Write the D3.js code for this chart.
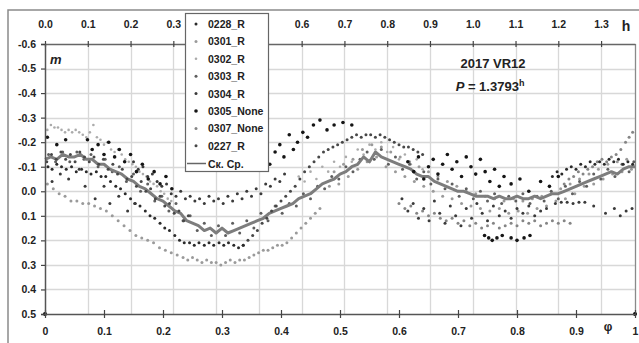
<!DOCTYPE html>
<html><head><meta charset="utf-8">
<script src="https://cdn.jsdelivr.net/npm/d3@7"></script>
<style>
body{margin:0;background:#fff}
svg{display:block}
text{font-family:"Liberation Sans",Arial,sans-serif}
</style>
</head><body>
<svg id="c" width="639" height="343"></svg>
<script>
// ---------------- DATA ----------------
const phaseTicks = [0,0.1,0.2,0.3,0.4,0.5,0.6,0.7,0.8,0.9,1];
const phaseLabels = ["0","0.1","0.2","0.3","0.4","0.5","0.6","0.7","0.8","0.9","1"];
const hourTicks = [0,0.1,0.2,0.3,0.4,0.5,0.6,0.7,0.8,0.9,1.0,1.1,1.2,1.3];
const hourLabels = ["0.0","0.1","0.2","0.3","0.4","0.5","0.6","0.7","0.8","0.9","1.0","1.1","1.2","1.3"];
const magTicks = [-0.6,-0.5,-0.4,-0.3,-0.2,-0.1,0,0.1,0.2,0.3,0.4,0.5];
const magLabels = ["-0.6","-0.5","-0.4","-0.3","-0.2","-0.1","0.0","0.1","0.2","0.3","0.4","0.5"];
const period = 1.3793;
const objectName = "2017 VR12";
const seriesNames = ["0228_R","0301_R","0302_R","0303_R","0304_R","0305_None","0307_None","0227_R"];
const meanName = "Ск. Ср.";

const s0228_R = [[0.005,-0.10],[0.012,-0.09],[0.02,-0.11],[0.028,-0.10],[0.036,-0.09],[0.045,-0.10],[0.053,-0.08],[0.062,-0.09],[0.07,-0.08],[0.078,-0.07],[0.087,-0.08],[0.095,-0.06],[0.103,-0.06],[0.111,-0.04],[0.12,-0.02],[0.128,-0.01],[0.136,0.01],[0.145,0.03],[0.153,0.05],[0.161,0.06],[0.17,0.08],[0.178,0.10],[0.186,0.11],[0.195,0.13],[0.203,0.15],[0.211,0.16],[0.22,0.18],[0.228,0.20],[0.236,0.21],[0.245,0.21],[0.253,0.22],[0.261,0.21],[0.27,0.22],[0.278,0.21],[0.286,0.22],[0.295,0.21],[0.303,0.22],[0.311,0.21],[0.32,0.22],[0.328,0.23],[0.336,0.22],
 [0.86,-0.06],[0.868,-0.08],[0.876,-0.07],[0.884,-0.09],[0.892,-0.10],[0.9,-0.09],[0.908,-0.11],[0.916,-0.10],[0.924,-0.12],[0.932,-0.11],[0.94,-0.12],[0.948,-0.11],[0.956,-0.13],[0.964,-0.12],[0.972,-0.13],[0.98,-0.11],[0.988,-0.12],[0.996,-0.11]];
const s0301_R = [[0.004,-0.03],[0.014,-0.01],[0.024,0.01],[0.034,0.02],[0.044,0.04],[0.054,0.04],[0.064,0.05],[0.074,0.05],[0.084,0.06],[0.094,0.07],[0.104,0.08],[0.114,0.10],[0.124,0.12],[0.134,0.14],[0.144,0.16],[0.154,0.18],[0.164,0.19],[0.174,0.20],[0.184,0.21],[0.194,0.23],[0.204,0.24],[0.214,0.25],[0.224,0.26],[0.234,0.27],[0.242,0.28],[0.25,0.27],[0.258,0.28],[0.266,0.29],[0.274,0.28],[0.282,0.29],[0.29,0.29],[0.298,0.30],[0.306,0.29],[0.314,0.28],[0.322,0.29],[0.33,0.28],[0.338,0.28],[0.346,0.27],[0.354,0.26],[0.362,0.25],[0.37,0.24],[0.378,0.24],[0.386,0.23],[0.394,0.22],[0.402,0.22],[0.41,0.21],[0.418,0.19],[0.426,0.17],[0.434,0.15],[0.442,0.13],[0.45,0.11],[0.458,0.09],[0.466,0.07],
 [0.482,-0.02],[0.49,-0.08],[0.498,-0.03],[0.506,-0.11],[0.514,-0.06],[0.522,-0.13],[0.53,-0.09],[0.538,-0.17],[0.546,-0.12],[0.554,-0.19],[0.562,-0.14],[0.57,-0.18],[0.578,-0.10],[0.586,-0.16],[0.594,-0.08],[0.602,-0.14],[0.61,-0.06],[0.618,-0.12],[0.626,-0.04],[0.634,-0.10],[0.642,-0.02],[0.65,-0.08],[0.658,0.00],[0.666,-0.06],[0.674,0.02],[0.682,-0.04],[0.69,0.03],[0.698,-0.02],[0.706,0.05],[0.714,0.00],[0.722,0.06],[0.73,0.01],[0.738,0.07],[0.746,0.02],[0.754,0.08],[0.762,0.03],[0.77,0.07],[0.778,0.04],[0.786,0.09],[0.794,0.03],[0.802,0.08],[0.81,0.04],[0.818,0.09],[0.826,0.03],[0.834,0.07],[0.842,0.02],[0.85,0.06],[0.858,0.01],[0.866,0.04],[0.874,-0.01],[0.882,0.03],[0.89,-0.03],[0.898,0.01],[0.906,-0.05],[0.914,-0.02],[0.922,-0.07],[0.93,-0.03],[0.938,-0.09],[0.946,-0.05],[0.954,-0.11],[0.962,-0.07],[0.97,-0.12],[0.978,-0.08],[0.986,-0.13],[0.994,-0.09]];
const s0302_R = [[0.004,-0.25],[0.01,-0.27],[0.016,-0.26],[0.022,-0.26],[0.028,-0.25],[0.034,-0.24],[0.04,-0.25],[0.046,-0.24],[0.052,-0.25],[0.058,-0.24],[0.064,-0.23],[0.07,-0.22],[0.076,-0.24],[0.082,-0.27],[0.088,-0.22],[0.094,-0.21],[0.10,-0.19],[0.106,-0.20],[0.112,-0.17],[0.118,-0.16],[0.124,-0.17],[0.13,-0.15],[0.136,-0.13],[0.142,-0.12],[0.148,-0.11],[0.154,-0.10],[0.16,-0.08],[0.166,-0.07],[0.172,-0.06],[0.178,-0.04],[0.184,-0.03],[0.19,-0.02],[0.196,0.00],[0.202,0.01],[0.208,0.03],[0.214,0.04],
 [0.43,-0.06],[0.44,-0.04],[0.45,-0.08],[0.46,-0.05],[0.47,-0.10],[0.48,-0.08],[0.49,-0.12],[0.50,-0.10],[0.51,-0.14],[0.52,-0.12],[0.53,-0.17],[0.54,-0.15],[0.55,-0.19],[0.56,-0.17],[0.57,-0.20],[0.58,-0.16],[0.59,-0.18],[0.60,-0.13],[0.61,-0.15],[0.62,-0.11],[0.63,-0.13],[0.64,-0.09]];
const s0303_R = [[0.006,-0.15],[0.018,-0.12],[0.03,-0.16],[0.042,-0.12],[0.054,-0.16],[0.066,-0.13],[0.078,-0.15],[0.09,-0.10],[0.102,-0.13],[0.114,-0.08],[0.126,-0.10],[0.138,-0.04],[0.15,-0.07],[0.162,0.00],[0.174,-0.03],[0.186,0.04],[0.198,0.02],[0.21,0.08],[0.222,0.05],[0.234,0.12],[0.246,0.10],[0.258,0.16],[0.27,0.13],[0.282,0.18],[0.294,0.14],[0.306,0.18],[0.318,0.13],[0.33,0.17],[0.342,0.12],[0.354,0.15],[0.366,0.09],[0.378,0.12],[0.39,0.06],
 [0.402,0.09],[0.414,0.05],[0.426,0.06],[0.438,0.01],[0.45,0.03],[0.462,-0.02],[0.474,-0.01],[0.486,-0.06],[0.498,-0.05],[0.51,-0.10],[0.522,-0.08],[0.534,-0.13],[0.546,-0.16],[0.558,-0.13],[0.57,-0.17],[0.582,-0.11],[0.594,-0.14],[0.606,-0.09],[0.618,-0.11],[0.63,-0.05],[0.642,-0.08],[0.654,-0.03],[0.666,-0.05],[0.678,-0.01],[0.69,-0.03],[0.702,0.02],[0.714,-0.01],[0.726,0.03],[0.738,0.00],[0.75,0.04],[0.762,0.01],[0.774,0.05],[0.786,0.02],[0.798,0.04],[0.81,0.01],[0.822,0.05],[0.834,0.02],[0.846,0.04],[0.858,0.00],[0.87,0.03],[0.882,-0.02],[0.894,0.01],[0.906,-0.04],[0.918,-0.02],[0.93,-0.07],[0.942,-0.05],[0.954,-0.09],[0.966,-0.06],[0.978,-0.11],[0.99,-0.08],[0.998,-0.12]];
const s0304_R = [[0.012,-0.04],[0.026,-0.07],[0.04,-0.05],[0.058,-0.09],[0.068,-0.02],[0.085,0.03],[0.1,-0.02],[0.11,0.05],[0.125,0.02],[0.14,0.08],[0.152,0.05],
 [0.15,-0.12],[0.158,-0.09],[0.166,-0.10],[0.174,-0.06],[0.182,-0.07],[0.19,-0.04],[0.198,-0.02],[0.206,-0.03],[0.214,0.01],[0.222,0.02],[0.23,0.00],[0.238,0.03],[0.246,0.02],[0.254,0.04],[0.262,0.03],[0.27,0.05],[0.278,0.02],[0.286,0.04],[0.294,0.03],[0.302,0.05],[0.31,0.02],[0.318,0.04],[0.326,0.01],[0.334,0.03],[0.342,0.00],[0.35,0.02],[0.358,-0.01],[0.366,0.01],[0.374,-0.03],[0.382,-0.02],[0.39,-0.05],[0.398,-0.04],[0.406,-0.07],
 [0.605,0.03],[0.615,0.08],[0.624,0.05],[0.633,0.11],[0.642,0.07],[0.651,0.12],[0.66,0.04],[0.669,0.09],[0.678,0.13],[0.687,0.06],[0.696,0.10],[0.705,0.14],[0.714,0.07],[0.723,0.11],[0.732,0.05],[0.741,0.09],[0.75,0.12],[0.76,0.06],[0.77,0.10],[0.78,0.08],[0.79,0.11],[0.80,0.07],[0.81,0.09],[0.82,0.06],[0.83,0.10],[0.84,0.08],[0.85,0.07],[0.865,0.05],[0.875,0.045],[0.885,0.045],[0.895,0.05],[0.905,0.045],[0.915,0.045],[0.93,0.06],[0.95,0.09],[0.965,0.07],[0.975,0.10],[0.985,0.08],[0.995,0.07]];
const s0305_None = [[0.004,-0.22],[0.02,-0.19],[0.035,-0.21],[0.072,-0.21],[0.08,-0.17],[0.09,-0.19],[0.1,-0.15],[0.108,-0.20],[0.118,-0.14],[0.126,-0.17],[0.135,-0.12],[0.145,-0.15],[0.155,-0.08],[0.165,-0.11],[0.175,-0.05],[0.185,-0.08],[0.195,-0.03],[0.205,-0.06],[0.215,-0.01],
 [0.362,-0.09],[0.372,-0.13],[0.381,-0.11],[0.39,-0.16],[0.398,-0.19],[0.405,-0.14],[0.414,-0.23],[0.421,-0.17],[0.428,-0.20],[0.437,-0.24],[0.445,-0.22],[0.455,-0.27],[0.466,-0.29],[0.478,-0.25],[0.49,-0.27],[0.505,-0.28],[0.52,-0.27],
 [0.615,-0.12],[0.625,-0.08],[0.633,-0.14],[0.642,-0.05],[0.65,-0.10],[0.658,-0.13],[0.666,-0.07],[0.674,-0.11],[0.682,-0.15],[0.69,-0.09],[0.698,-0.12],[0.706,-0.06],[0.714,-0.14],[0.722,-0.10],[0.73,-0.07],[0.738,-0.13],[0.746,-0.08],[0.754,-0.04],[0.762,-0.09],[0.77,-0.02],[0.778,-0.06],[0.79,-0.03],[0.805,-0.05],[0.82,0.00],[0.84,-0.04],[0.855,-0.02],[0.87,-0.06],
 [0.745,0.18],[0.752,0.19],[0.758,0.20],[0.766,0.19],[0.775,0.18],[0.79,0.19],[0.80,0.20],[0.812,0.19],[0.822,0.18]];
const s0307_None = [[0.60,0.05],[0.61,0.07],[0.62,0.06],[0.63,0.09],[0.64,0.08],[0.65,0.10],[0.66,0.09],[0.67,0.11],[0.68,0.12],[0.69,0.11],[0.70,0.13],[0.71,0.12],[0.72,0.14],[0.73,0.13],[0.74,0.15],[0.75,0.14],[0.76,0.13],[0.77,0.15],[0.78,0.14],[0.79,0.13],[0.80,0.14],[0.81,0.12],[0.82,0.13],[0.83,0.12],[0.84,0.14],[0.85,0.13],[0.86,0.12],[0.87,0.13],[0.88,0.12],[0.89,0.13],
 [0.88,-0.03],[0.888,-0.05],[0.896,-0.06],[0.904,-0.08],[0.912,-0.07],[0.92,-0.09],[0.928,-0.10],[0.936,-0.12],[0.944,-0.13],[0.952,-0.12],[0.96,-0.14],[0.968,-0.15],[0.976,-0.17],[0.984,-0.20],[0.99,-0.22],[0.996,-0.24]];
const s0227_R = [[0.003,-0.12],[0.011,-0.15],[0.019,-0.13],[0.027,-0.16],[0.035,-0.13],[0.043,-0.15],[0.051,-0.12],[0.059,-0.16],[0.067,-0.14],[0.075,-0.12],[0.083,-0.14],[0.091,-0.11],[0.099,-0.13],[0.107,-0.09],[0.115,-0.11],[0.123,-0.07],[0.131,-0.09],[0.139,-0.05],[0.147,-0.06],[0.155,-0.02],[0.163,-0.04],[0.171,0.00],[0.179,-0.01],[0.187,0.03],[0.195,0.02],[0.203,0.06],[0.211,0.05],[0.219,0.09],[0.227,0.08],[0.235,0.12],[0.243,0.10],
 [0.336,0.22],[0.344,0.20],[0.352,0.18],[0.36,0.16],[0.368,0.13],[0.376,0.11],[0.384,0.08],[0.392,0.06],[0.4,0.04],[0.408,0.02],[0.416,0.00],[0.424,-0.02],[0.432,-0.05],[0.44,-0.08],[0.448,-0.10],[0.456,-0.12],[0.464,-0.14],[0.472,-0.16],[0.48,-0.17],[0.488,-0.18],[0.496,-0.19],[0.504,-0.20],[0.512,-0.21],[0.52,-0.22],[0.528,-0.23],[0.536,-0.22],[0.544,-0.23],[0.552,-0.23],[0.56,-0.22],[0.568,-0.23],[0.576,-0.22],[0.584,-0.21],[0.592,-0.20],[0.6,-0.19],[0.608,-0.18],[0.616,-0.18],[0.624,-0.17],[0.632,-0.16],[0.64,-0.15]];
const meanCurve = [[0.00,-0.13],[0.01,-0.14],[0.02,-0.13],[0.03,-0.15],[0.04,-0.14],[0.05,-0.14],[0.06,-0.15],[0.07,-0.13],[0.08,-0.13],[0.09,-0.11],[0.10,-0.11],[0.11,-0.09],[0.12,-0.08],[0.13,-0.07],[0.14,-0.05],[0.15,-0.04],[0.16,-0.02],[0.17,-0.01],[0.18,0.01],[0.19,0.03],[0.20,0.04],[0.21,0.06],[0.22,0.08],[0.23,0.09],[0.24,0.12],[0.25,0.13],[0.26,0.14],[0.27,0.16],[0.28,0.15],[0.29,0.17],[0.30,0.15],[0.31,0.17],[0.32,0.16],[0.33,0.15],[0.34,0.14],[0.35,0.13],[0.36,0.12],[0.37,0.11],[0.38,0.09],[0.39,0.08],[0.40,0.07],[0.41,0.06],[0.42,0.05],[0.43,0.03],[0.44,0.02],[0.45,0.01],[0.46,-0.01],[0.47,-0.03],[0.48,-0.04],[0.49,-0.05],[0.50,-0.07],[0.51,-0.08],[0.52,-0.10],[0.53,-0.11],[0.54,-0.14],[0.55,-0.12],[0.56,-0.16],[0.57,-0.14],[0.58,-0.13],[0.59,-0.12],[0.60,-0.11],[0.61,-0.10],[0.62,-0.09],[0.63,-0.07],[0.64,-0.06],[0.65,-0.06],[0.66,-0.04],[0.67,-0.03],[0.68,-0.02],[0.69,-0.01],[0.70,0.00],[0.71,0.00],[0.72,0.01],[0.73,0.02],[0.74,0.02],[0.75,0.02],[0.76,0.03],[0.77,0.02],[0.78,0.03],[0.79,0.03],[0.80,0.02],[0.81,0.03],[0.82,0.03],[0.83,0.02],[0.84,0.03],[0.85,0.02],[0.86,0.01],[0.87,0.01],[0.88,0.00],[0.89,-0.01],[0.90,-0.02],[0.91,-0.03],[0.92,-0.04],[0.93,-0.05],[0.94,-0.06],[0.95,-0.07],[0.96,-0.08],[0.97,-0.07],[0.98,-0.09],[0.99,-0.10],[1.00,-0.10]];
const cornerPoints = [[0,0.5],[1,0.5]];

// ---------------- DRAW ----------------
const svg = d3.select("#c");
const L = 45, R = 635, T = 44, B = 314;
const x = d3.scaleLinear().domain([0,1]).range([L,R]);
const xh = d3.scaleLinear().domain([0,period]).range([L,R]);
const y = d3.scaleLinear().domain([-0.6,0.5]).range([T,B]);
const legendBox = {x:185.5, y:13.5, w:83, h:158};

svg.append("rect").attr("x",0).attr("y",0).attr("width",639).attr("height",343).attr("fill","#fff");
svg.append("rect").attr("x",8).attr("y",10).attr("width",640).attr("height",345)
  .attr("fill","none").attr("stroke","#8a8a8a").attr("stroke-width",1.5);

const g = svg.append("g");
g.selectAll("line.h").data(magTicks.slice(1,-1)).join("line")
  .attr("x1",L).attr("x2",R).attr("y1",d=>Math.round(y(d))+0.5).attr("y2",d=>Math.round(y(d))+0.5)
  .attr("stroke","#d8d8d8").attr("stroke-width",1.3);
g.selectAll("line.v").data(hourTicks.slice(1)).join("line")
  .attr("y1",T).attr("y2",B).attr("x1",d=>Math.round(xh(d))+0.5).attr("x2",d=>Math.round(xh(d))+0.5)
  .attr("stroke","#d8d8d8").attr("stroke-width",1.3);
svg.append("line").attr("x1",R+0.5).attr("x2",R+0.5).attr("y1",T).attr("y2",B).attr("stroke","#8a8a8a").attr("stroke-width",1.3);

const seriesData = [s0228_R,s0301_R,s0302_R,s0303_R,s0304_R,s0305_None,s0307_None,s0227_R];
const seriesColor = ["#2a2a2a","#9a9a9a","#ababab","#5e5e5e","#3a3a3a","#151515","#858585","#474747"];
const seriesR = [1.5,1.5,1.3,1.5,1.5,1.8,1.5,1.5];
const drawOrder = [2,1,6,3,7,0,4,5];

const line = d3.line().x(d=>x(d[0])).y(d=>y(d[1]));
drawOrder.forEach((si,k)=>{
  if(k===4){
    svg.append("path").attr("d",line(meanCurve)).attr("fill","none")
      .attr("stroke","#7d7d7d").attr("stroke-width",3).attr("stroke-linejoin","round");
  }
  svg.append("g").selectAll("circle").data(seriesData[si]).join("circle")
    .attr("cx",d=>x(d[0])).attr("cy",d=>y(d[1])).attr("r",seriesR[si]).attr("fill",seriesColor[si]);
});
svg.append("g").selectAll("circle").data(cornerPoints).join("circle")
  .attr("cx",d=>x(d[0])).attr("cy",d=>y(d[1])).attr("r",2).attr("fill","#000");

const axFont = g2 => g2.selectAll("text").attr("font-weight","bold").attr("font-size","10.5px").attr("fill","#222")
  .style("font-family","'Liberation Sans',Arial,sans-serif");

// top labels hidden behind the legend box are not drawn
const hiddenByLegend = v => { const px = xh(v); return px > legendBox.x - 6 && px < legendBox.x + legendBox.w + 6; };
const topAx = svg.append("g").attr("transform",`translate(0,${T})`)
  .call(d3.axisTop(xh).tickValues(hourTicks).tickFormat((d,i)=>hiddenByLegend(d) ? "" : hourLabels[i]).tickSize(0).tickPadding(16));
topAx.select(".domain").attr("stroke","#666").attr("stroke-width",1.5);
topAx.selectAll(".tick").append("line").attr("y1",-3).attr("y2",3).attr("stroke","#444").attr("stroke-width",1.2);
axFont(topAx);

const botAx = svg.append("g").attr("transform",`translate(0,${B})`)
  .call(d3.axisBottom(x).tickValues(phaseTicks).tickFormat((d,i)=>phaseLabels[i]).tickSize(0).tickPadding(14));
botAx.select(".domain").attr("stroke","#555").attr("stroke-width",1.5);
botAx.selectAll(".tick").append("line").attr("y1",-4).attr("y2",4).attr("stroke","#444").attr("stroke-width",1.2);
axFont(botAx);

const leftAx = svg.append("g").attr("transform",`translate(${L},0)`)
  .call(d3.axisLeft(y).tickValues(magTicks).tickFormat((d,i)=>magLabels[i]).tickSize(4).tickPadding(5));
leftAx.select(".domain").attr("stroke","#555").attr("stroke-width",1.5);
leftAx.selectAll(".tick line").attr("stroke","#444").attr("stroke-width",1.2);
axFont(leftAx);

svg.append("text").attr("x",626).attr("y",31).attr("text-anchor","middle")
  .attr("font-weight","bold").attr("font-size","14px").attr("fill","#222").text("h");
svg.append("text").attr("x",608).attr("y",331).attr("text-anchor","middle")
  .attr("font-weight","bold").attr("font-size","12px").attr("fill","#222").text("φ");
svg.append("text").attr("x",50).attr("y",64)
  .attr("font-style","italic").attr("font-weight","bold").attr("font-size","13px").attr("fill","#222").text("m");

svg.append("text").attr("x",493).attr("y",68).attr("text-anchor","middle")
  .attr("font-weight","bold").attr("font-size","13px").attr("fill","#222").text(objectName);
const pt = svg.append("text").attr("x",490).attr("y",91).attr("text-anchor","middle")
  .attr("font-weight","bold").attr("font-size","13px").attr("fill","#222");
pt.append("tspan").attr("font-style","italic").text("P");
pt.append("tspan").text(" = " + period.toString());
pt.append("tspan").attr("dy",-5).attr("font-size","9px").text("h");

const lg = svg.append("g");
lg.append("rect").attr("x",legendBox.x).attr("y",legendBox.y).attr("width",legendBox.w).attr("height",legendBox.h)
  .attr("fill","#fff").attr("stroke","#666").attr("stroke-width",1.2);
const legendItems = seriesNames.map((n,i)=>({name:n,i}));
lg.selectAll("circle").data(legendItems).join("circle")
  .attr("cx",196).attr("cy",(d,k)=>24+k*17.4).attr("r",d=>seriesR[d.i]).attr("fill",d=>seriesColor[d.i]);
lg.selectAll("text.s").data(legendItems).join("text")
  .attr("x",208).attr("y",(d,k)=>28+k*17.4).attr("font-weight","bold").attr("font-size","10.5px").attr("fill","#222")
  .text(d=>d.name);
lg.append("line").attr("x1",187).attr("x2",206).attr("y1",163.5).attr("y2",163.5).attr("stroke","#666").attr("stroke-width",1.5);
lg.append("text").attr("x",208).attr("y",167.5).attr("font-weight","bold").attr("font-size","10.5px").attr("fill","#222").text(meanName);
</script>
</body></html>
